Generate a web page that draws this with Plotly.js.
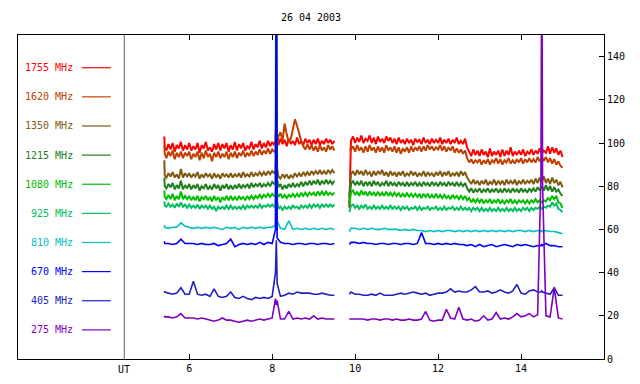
<!DOCTYPE html>
<html>
<head>
<meta charset="utf-8">
<script src="https://cdn.plot.ly/plotly-3.0.1.min.js"></script>
<style>html,body{margin:0;padding:0;background:#fff;}#chart{width:640px;height:384px;}</style>
</head>
<body>
<div id="chart"></div>
<script>
// UT hours, fine sampling (high-frequency channels); 9.7 is the gap between the runs
const hoursFine = [5.4,5.41,
  5.45,5.5,5.55,5.6,5.65,5.7,5.75,5.8,5.85,5.9,5.95,
  6.0,6.05,6.1,6.15,6.2,6.25,6.3,6.35,6.4,6.45,6.5,6.55,6.6,6.65,6.7,6.75,6.8,6.85,6.9,6.95,
  7.0,7.05,7.1,7.15,7.2,7.25,7.3,7.35,7.4,7.45,7.5,7.55,7.6,7.65,7.7,7.75,7.8,7.85,7.9,7.95,
  8.0,8.05, 8.08,8.1,8.12,
  8.15,8.2,8.25,8.3,8.35,8.4,8.45,8.5,8.55,8.6,8.65,8.7,8.75,8.8,8.85,8.9,8.95,
  9.0,9.05,9.1,9.15,9.2,9.25,9.3,9.35,9.4,9.45,9.5,
  9.7,
  9.86,9.9,9.95,
  10.0,10.05,10.1,10.15,10.2,10.25,10.3,10.35,10.4,10.45,10.5,10.55,10.6,10.65,10.7,10.75,10.8,10.85,10.9,10.95,
  11.0,11.05,11.1,11.15,11.2,11.25,11.3,11.35,11.4,11.45,11.5,11.55,11.6,11.65,11.7,11.75,11.8,11.85,11.9,11.95,
  12.0,12.05,12.1,12.15,12.2,12.25,12.3,12.35,12.4,12.45,12.5,12.55,12.6,12.65,12.7,12.75,12.8,12.85,12.9,12.95,
  13.0,13.05,13.1,13.15,13.2,13.25,13.3,13.35,13.4,13.45,13.5,13.55,13.6,13.65,13.7,13.75,13.8,13.85,13.9,13.95,
  14.0,14.05,14.1,14.15,14.2,14.25,14.3,14.35,14.4,14.45,14.5,14.55,14.6,14.65,14.7,14.75,14.8,14.85,14.9,14.95,
  15.0];

// UT hours, coarse sampling (smoother low-frequency channels)
const hoursCoarse = [5.4,5.41,5.5,5.6,5.7,5.8,5.9,6.0,6.1,6.2,6.3,6.4,6.5,6.6,6.7,6.8,6.9,7.0,7.1,7.2,7.3,7.4,7.5,7.6,7.7,7.8,7.9,8.0,8.08,8.1,8.12,8.2,8.3,8.4,8.5,8.6,8.7,8.8,8.9,9.0,9.1,9.2,9.3,9.4,9.5,
  9.7,
  9.86,9.9,10.0,10.1,10.2,10.3,10.4,10.5,10.6,10.7,10.8,10.9,11.0,11.1,11.2,11.3,11.4,11.5,11.6,11.7,11.8,11.9,12.0,12.1,12.2,12.3,12.4,12.5,12.6,12.7,12.8,12.9,13.0,13.1,13.2,13.3,13.4,13.5,13.6,13.7,13.8,13.9,14.0,14.1,14.2,14.3,14.4,14.48,14.5,14.52,14.6,14.7,14.8,14.9,15.0];

// Flux values, fine channels
const f1755 = [103,98,
  96.5,99.5,97,100,96,99,97.5,100.5,96.5,99,97,
  100,96.5,98.5,97,100,95.5,99,97.5,100.5,96.5,98,96,99.5,97,100,96.5,99.5,97.5,100,96,
  99,97,100.5,96.5,99.5,97.5,100,96.5,98.5,97.5,100.5,97,99.5,98,101,97.5,100,98,101,98.5,
  100.5,99, 101,112,102,
  99,102,99.5,101.5,98.5,102,99.5,101,99,102.5,99.5,101,99,102,100,101.5,99,
  101.5,99.5,102,99,101,99.5,102,100,101.5,99.5,101,
  null,
  70,101,103,
  100,102.5,100.5,103.5,100,102,101,103.5,100,102.5,99.5,103,100.5,102,100,103,101,102.5,100,102,
  99.5,102.5,100,101.5,99.5,102,100,101.5,99,102,100.5,101.5,99.5,102.5,100,101.5,99.5,102,100,101.5,
  100,102.5,99.5,101.5,100,102,99.5,101.5,100,102.5,99.5,101,99.5,102,98,96,94,97,94.5,96.5,
  94,97,94.5,96,93.5,97.5,94,96,94.5,96.5,93.5,97,94,96.5,94.5,98,94,96,94.5,96.5,
  94.5,97,94,96,95,97,94.5,96.5,95,97.5,95,96.5,95.5,98.5,95,98,95.5,97.5,94.5,96.5,
  93.5];
const f1620 = [99,95,
  93,96,94,96.5,92.5,95.5,93.5,96,93,95.5,94,
  96,92.5,95,93.5,96,92,95.5,93,96.5,93.5,95,91.5,95.5,93.5,96,93,95,93.5,96,92.5,
  95.5,93.5,96,93,95.5,94,96.5,93.5,95.5,94,96.5,94,96,94.5,97,94.5,96.5,95,97.5,95,
  97,96, 96,101,99,
  103,105,101,109,104,100.5,102,106,111,108,104,101,98.5,97,99.5,97,99,
  96.5,98.5,96,99,96.5,98,96,99,97,98.5,96.5,
  null,
  97,97,98.5,
  96,99,96.5,98,95.5,98.5,96,99,96.5,98,95.5,98.5,96,98,95.5,99,96.5,98,96,98.5,
  95.5,98,95,97.5,96,98,95.5,98.5,96,98,96.5,98.5,96,98.5,96.5,99,97,98.5,96.5,98,
  97,99,96.5,98.5,96,98,96.5,98.5,95.5,97.5,95.5,97,95,96.5,93,91,92.5,90.5,92,91,
  92.5,90,92,90.5,92.5,90,92,91,93,90.5,92.5,90,92,91,93,90.5,92,90.5,92.5,91,
  93,90.5,92.5,91,93,91,92.5,91,93.5,91.5,93,92,93.5,91,93,90.5,92.5,90,91.5,89.5,
  88.5];
const f1350 = [92,85,
  84,86,84.5,86.5,84,85.5,83.5,88,84,86,84.5,
  86,84,85.5,84.5,86.5,83.5,85.5,84,86,84.5,85.5,83.5,86,84,85.5,83.5,86,84.5,85.5,84,
  86,84,85.5,84.5,86,84,86.5,84.5,85.5,84.5,86.5,84.5,86,85,86.5,85,86.5,85,87,85.5,
  87,86, 86,96,88,
  84.5,83.5,85.5,84,85.5,83.5,85,84,86,84.5,86,84.5,86.5,85,86.5,85,87,
  85.5,87,85.5,87.5,85.5,87,85.5,87.5,86,87.5,86,
  null,
  75,85.5,87,
  85,87.5,85.5,87,85,87.5,85.5,86.5,84.5,87,85,87,85.5,87.5,85,86.5,84.5,87,85,86.5,
  84.5,86.5,85,87,84.5,86,85,87,85,86.5,84.5,86,85,87,84.5,86.5,85,86,84.5,86.5,
  85,87,84.5,86.5,85,87,84.5,86,85,86.5,84.5,87,85,86.5,84,82.5,81,83,81,82.5,
  80.5,82.5,81,83,80.5,82,81,83,80.5,82.5,81,82.5,80.5,83,81,82.5,81,83,80.5,82.5,
  81,83,81,82.5,81.5,83,81,83.5,81.5,84,82,84.5,81.5,83.5,81,84,81.5,83,80.5,82,
  79.5];
const f1215 = [84,80,
  79,81,79.5,81.5,78.5,80.5,79,82.5,78.5,80.5,79,
  81,78.5,80.5,79,81,78,80,79,81,78.5,80,78.5,81,79,80.5,78,80.5,79,81,78.5,
  80.5,78.5,80.5,79,81,79,80.5,79.5,81,79,81.5,79.5,81,80,81.5,79.5,81,80,81.5,80,
  82,81, 81,200,83,
  79.5,81,78.5,80.5,79,81,79.5,81.5,79.5,81,80,82,80,82,80.5,82.5,80.5,
  82.5,81,83,80.5,82.5,81,83,81,82.5,81,82.5,
  null,
  71.5,81,82.5,
  80.5,82,80.5,82.5,80,82,80.5,82,80,82.5,80.5,82,80,81.5,80.5,82.5,80,82,80.5,81.5,
  80,82,80.5,81.5,80,82,80,81.5,80.5,82,80,81.5,80,82,80.5,81.5,80,82,80.5,81.5,
  80,82,80.5,81.5,80,82,80.5,81.5,80,82,80,81.5,80,81.5,79,77.5,79,77,78.5,77.5,
  79,77,78.5,77.5,79,77,78.5,77.5,79,77,78.5,77,79,77.5,78.5,77,79,77.5,78.5,77,
  79,77.5,78.5,77,79,77.5,79,77.5,79.5,78,80,78,80.5,78,80,77.5,79.5,77.5,78.5,76.5,
  75.5];
const f1080 = [78,75,
  74,76,74,76.5,73.5,75.5,74,77.5,74,75.5,74,
  75.5,73.5,75,73.5,75.5,73,75,74,75.5,73.5,75,73,75.5,73.5,75,72.5,75,73.5,75.5,73.5,
  75.5,73.5,75,73.5,75.5,74,75,73.5,75.5,74,75.5,74,75.5,74.5,76,74.5,76,75,76.5,75,
  76.5,75.5, 76,86,77,
  75,76.5,74.5,76,74.5,76,75,76.5,75,76.5,75,77,75.5,77,75.5,77,76,
  77,75.5,77.5,76,77.5,76,77.5,76,77,76,77,
  null,
  71,77,78,
  76,77.5,75.5,78,76,77.5,75.5,77.5,76,77,75.5,77.5,75.5,77,75.5,77.5,75.5,77,75.5,77,
  75.5,77,75,76.5,75,77,75,76.5,75,76.5,75,76.5,74.5,76.5,75,76.5,74.5,76,74.5,76.5,
  74.5,76,74.5,76,74.5,75.5,74,76,74.5,75.5,74,75.5,74,75.5,73.5,74.5,72.5,74,72.5,74,
  72.5,74,72,73.5,72.5,74,72,73.5,72.5,74,72,73.5,72,73.5,72.5,74,72,73.5,72,73.5,
  72.5,73.5,72,73.5,72,73.5,72.5,74,72.5,73.5,72.5,73.5,73,74.5,73.5,75.5,74,75.5,72.5,72,
  70];
const f925 = [73,71,
  70.5,72,70.5,71.5,70,72,70.5,72.5,70.5,71.5,70,
  71.5,70,71,70,71.5,69.5,71,70,71,69.5,71,69.5,70.5,68.5,70.5,69.5,70.5,69.5,71,69.5,
  71,69.5,70.5,69.5,70.5,69.5,71,69.5,71,70,71,70,71,70,71.5,70,71,70.5,71.5,70.5,
  71.5,70.5, 71,82,73,
  69.5,70.5,69,70.5,69.5,70.5,69.5,71,70,70.5,69.5,71,70,71,70,71.5,70,
  71.5,70.5,71.5,70,71.5,70.5,71.5,70.5,71.5,70.5,71.5,
  null,
  68,71,71.5,
  70,71,69.5,71,70,71.5,69.5,70.5,69.5,71,69.5,70.5,69.5,71,69.5,70.5,69.5,71,69.5,70.5,
  69.5,70.5,69,70.5,69.5,70.5,69,70,69.5,70.5,69,70.5,69,70,69.5,70.5,69,70,69.5,70.5,
  69,70,69,70.5,69,70,69.5,70.5,69,70,69,70.5,69,70,69,70,68.5,70,69,70,
  68.5,70,68.5,69.5,68.5,70,68.5,69.5,68.5,70,68.5,69.5,68.5,70,68.5,69.5,68.5,70,68.5,69.5,
  68.5,70,69,70,68.5,70,69,70,69.5,70.5,69.5,70.5,70,71,70.5,72.5,71,72,69.5,69,
  68];

// coarse channels
const f810 = [62,61, 60.5,61,61,63,61.5, 61,60.5,61,60.5,61,60.5,61,60.5,60,61, 60.5,61,60,61,60.5,61,60.5,61,60.5,61, 61, 62,80,64, 60.5,60,64,60,60.5,60,60.5,60,60.5,60,60.5,60,60.5,60,
  null,
  59,60.5, 60.5,60,60.5,60,60.5,60,60,60.5,60,60, 60,59.5,60,59.5,60,59.5,59.5,59,59.5,59, 59.5,59,59.5,59.5,59,59.5,59,59.5,59,59.5, 59,59.5,59,59.5,59,59.5,59,59.5,59,59.5, 59.5,59,59.5,59,59.5, 59,59.5,59, 59.5,59,59,58.5,58];
const f670 = [54.5,53.5, 53.5,53,53.5,55.5,53.5, 53.5,53.5,53,53.5,53,53,53.5,52.5,53,53.5, 55.5,52,53,53.5,53,53.5,53,54,53,54, 53.5, 60,200,56, 54,53.5,53.5,53,53.5,53.5,53,53.5,53.5,53,53.5,53.5,53,53.5,
  null,
  53,54, 54,53.5,54,53.5,53.5,53,53.5,53.5,53,53.5, 53.5,53,53.5,53.5,53,53.5,58.5,53.5,53.5,53, 53.5,53,53.5,53,53.5,53,53,52.5,53,52, 53,52,52.5,53,52,52.5,53,52.5,52,53, 52.5,53,52.5,52,52.5, 52.5,53,52.5, 53.5,52.5,52.5,52,52];
const f405 = [31.5,31, 30.5,30,30.5,33,30, 30,36,30,29.5,30,29,32.5,29,28.5,29, 31,28.5,28,29,28,27.5,28.5,28,28.5,28, 29, 40,55,35, 29,29.5,30.5,30,31,30.5,30.5,30.5,30,30,30.5,30,29.5,29.5,
  null,
  30,31, 30,30,29.5,29.5,30,29.5,30.5,29.5,29.5,29.5, 30,30.5,30,30.5,31,30.5,30,30.5,29.5,30, 30.5,30.5,31,32.5,31,31.5,31,31,32,33.5, 31,31,31.5,30.5,31,32,31,30.5,31.5,34.5, 30.5,30,31.5,32,31, 31,31.5,31, 30.5,30,33,29.5,29.5];
const f275 = [20,19.5, 19.5,19,19.5,21,19, 19,19,18.5,19,18.5,18,17.5,18,19,18, 18,17.5,17,17.5,18,17.5,18,18.5,18,18.5, 19, 28,25,27, 18.5,18.5,22,18.5,19,18.5,19,18.5,20,18.5,19,18.5,18.5,18.5,
  null,
  18.5,18.5, 18.5,18.5,18.5,18,18.5,18.5,18,18.5,18.5,18, 18.5,18,18,18.5,18,18,18.5,22,18,17.5, 18,18,23,19,18.5,24,18.5,18,18.5,17.5, 18,20,18,18.5,21.5,18.5,19,18.5,19.5,21, 19.5,20,21,19.5,20.5, 85,200,80, 20,19.5,33,19,18.5];

const seriesLabels = ['1755 MHz','1620 MHz','1350 MHz','1215 MHz','1080 MHz','925 MHz','810 MHz','670 MHz','405 MHz','275 MHz'];
const seriesData = [f1755,f1620,f1350,f1215,f1080,f925,f810,f670,f405,f275];
const seriesHours = [hoursFine,hoursFine,hoursFine,hoursFine,hoursFine,hoursFine,hoursCoarse,hoursCoarse,hoursCoarse,hoursCoarse];
const yTicks = [0,20,40,60,80,100,120,140];
const xTicks = [6,8,10,12,14];
const titleText = '26 04 2003';
const utLabel = 'UT';
const utHour = 4.434;

// styles
const seriesColors = ['#ff0000','#c04000','#805a10','#208020','#00c000','#00c060','#00c0c0','#0000ff','#2020c0','#8000c0'];
const seriesWidths = [2,2,2,2,2,2,1.6,1.6,1.6,1.6];
const FONT = 'DejaVu Sans Mono, monospace';

const traces = seriesData.map((vals, i) => ({
  x: seriesHours[i], y: vals, type: 'scatter', mode: 'lines',
  line: {color: seriesColors[i], width: seriesWidths[i]},
  connectgaps: false, showlegend: false, hoverinfo: 'skip'
}));

const annotations = [];
const shapes = [];
seriesLabels.forEach((lab, i) => {
  const yp = 0.899 - i * 0.0899;
  annotations.push({xref:'paper', yref:'paper', x:0.0973, y:yp, xanchor:'right', yanchor:'middle',
    text: lab, showarrow:false, font:{family:FONT, size:10, color:seriesColors[i]}});
  shapes.push({type:'line', xref:'paper', yref:'paper', x0:0.1092, x1:0.1582, y0:yp, y1:yp,
    line:{color:seriesColors[i], width:1.2}});
});
shapes.push({type:'line', xref:'x', yref:'paper', x0:utHour, x1:utHour, y0:0, y1:1, line:{color:'#606060', width:1}});
annotations.push({xref:'x', yref:'paper', x:utHour, y:0, yanchor:'top', yshift:-3, text:utLabel, showarrow:false,
  font:{family:FONT, size:10, color:'#000'}});

// length check (only shows if something is misaligned)
const bad = seriesData.map((v,i)=> v.length !== seriesHours[i].length ? seriesLabels[i]+':'+v.length+'/'+seriesHours[i].length : null).filter(Boolean);
if (bad.length) annotations.push({xref:'paper', yref:'paper', x:0.5, y:0.97, text:bad.join(' '), showarrow:false, font:{size:10,color:'#000'}});

const layout = {
  width: 640, height: 384,
  margin: {l:18, r:36, t:35, b:25, pad:0},
  paper_bgcolor:'#fff', plot_bgcolor:'#fff',
  title: {text: titleText, x:0.5, xref:'paper', y: 1 - 17/384, yref:'container', yanchor:'middle', xanchor:'center',
    font:{family:FONT, size:10, color:'#000'}},
  xaxis: {range:[1.872, 16.0], tickvals:xTicks, ticktext:xTicks.map(String), ticks:'inside', ticklen:5,
    tickcolor:'#000', showline:true, linecolor:'#000', linewidth:1, mirror:'ticks', showgrid:false, zeroline:false,
    tickfont:{family:FONT, size:10, color:'#000'}},
  yaxis: {range:[0,150], side:'right', tickvals:yTicks, ticktext:yTicks.map(String), ticks:'inside', ticklen:5,
    tickcolor:'#000', showline:true, linecolor:'#000', linewidth:1, mirror:true, showgrid:false, zeroline:false,
    tickfont:{family:FONT, size:10, color:'#000'}},
  shapes: shapes,
  annotations: annotations
};

Plotly.newPlot('chart', traces, layout, {displayModeBar:false, staticPlot:true});
</script>
</body>
</html>
